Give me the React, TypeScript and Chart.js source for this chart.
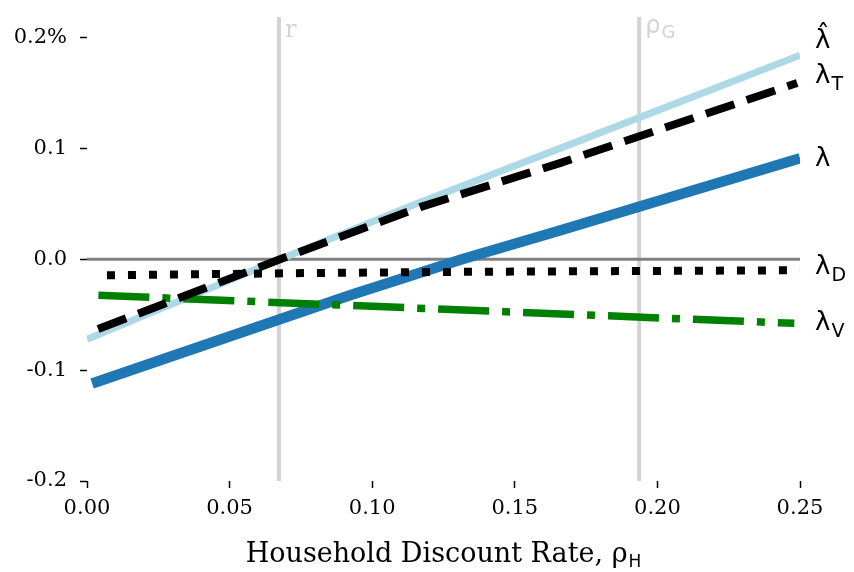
import React, { useEffect, useRef } from "react";
import { Chart, registerables } from "chart.js";

Chart.register(...registerables);

// Axis ticks
const xTicks = [0, 0.05, 0.1, 0.15, 0.2, 0.25];
const yTicks = [-0.2, -0.1, 0, 0.1, 0.2];
const yTickLabels = ["-0.2", "-0.1", "0.0", "0.1", "0.2%"];

// Reference lines
const rValue = 0.0673;
const rhoGValue = 0.1936;
const zeroLineX = [0, 0.25];

// Series (x = household discount rate, y = %)
const lamHatX = [0, 0.0677, 0.1168, 0.1658, 0.25];
const lamHatY = [-0.0722, 0, 0.0515, 0.1, 0.184];

const lamTX = [0.0039, 0.0677, 0.1168, 0.1658, 0.249];
const lamTY = [-0.063, 0, 0.047, 0.0867, 0.159];

const lamX = [0.0018, 0.0922, 0.1315, 0.1658, 0.25];
const lamY = [-0.112, -0.0325, 0, 0.026, 0.091];

const lamDX = [0.007, 0.08, 0.13, 0.25];
const lamDY = [-0.0144, -0.0124, -0.0114, -0.0099];

const lamVX = [0.004, 0.06, 0.248];
const lamVY = [-0.0325, -0.0383, -0.0578];

const Y_MIN = -0.2;
const Y_MAX = 0.2185;

const pts = (xs: number[], ys: number[]) => xs.map((x, i) => ({ x, y: ys[i] }));

const SERIF = "'DejaVu Serif', serif";
const SANS = "'DejaVu Sans', sans-serif";

const labelPlugin = {
  id: "labels",
  afterDraw(chart: any) {
    const { ctx, scales } = chart;
    const xs = scales.x;
    const ys = scales.y;
    ctx.save();

    // right-hand series labels
    const labels = [
      { main: "λ\u0302", sub: "", yv: lamHatY[lamHatY.length - 1], dy: -7 },
      { main: "λ", sub: "T", yv: lamTY[lamTY.length - 1], dy: 0 },
      { main: "λ", sub: "", yv: lamY[lamY.length - 1], dy: 8 },
      { main: "λ", sub: "D", yv: lamDY[lamDY.length - 1], dy: 4 },
      { main: "λ", sub: "V", yv: lamVY[lamVY.length - 1], dy: 7 },
    ];
    const lx = chart.chartArea.right + 15;
    ctx.fillStyle = "#000";
    ctx.textBaseline = "alphabetic";
    ctx.textAlign = "left";
    for (const l of labels) {
      const by = ys.getPixelForValue(l.yv) + l.dy;
      ctx.font = `26px ${SANS}`;
      ctx.fillText(l.main, lx, by);
      if (l.sub) {
        const w = ctx.measureText("λ").width;
        ctx.font = `19px ${SANS}`;
        ctx.fillText(l.sub, lx + w + 1, by + 7);
      }
    }

    // vertical line labels
    const top = chart.chartArea.top;
    ctx.fillStyle = "#d3d3d3";
    ctx.font = `24px ${SERIF}`;
    ctx.fillText("r", xs.getPixelForValue(rValue) + 6, top + 20);
    const gx = xs.getPixelForValue(rhoGValue) + 6;
    ctx.font = `24px ${SANS}`;
    ctx.fillText("ρ", gx, top + 16);
    const rw = ctx.measureText("ρ").width;
    ctx.font = `18px ${SANS}`;
    ctx.fillText("G", gx + rw + 1, top + 21);

    // x-axis title
    ctx.fillStyle = "#000";
    const t1 = "Household Discount Rate, ρ";
    ctx.font = `27px ${SERIF}`;
    const w1 = ctx.measureText(t1).width;
    ctx.font = `17px ${SANS}`;
    const w2 = ctx.measureText("H").width;
    const cx = (chart.chartArea.left + chart.chartArea.right) / 2;
    const startX = cx - (w1 + w2 + 1) / 2;
    ctx.font = `27px ${SERIF}`;
    ctx.fillText(t1, startX, 562);
    ctx.font = `17px ${SANS}`;
    ctx.fillText("H", startX + w1 + 1, 567);

    ctx.restore();
  },
};

export default function App() {
  const ref = useRef<HTMLCanvasElement>(null);

  useEffect(() => {
    if (!ref.current) return;
    const chart = new Chart(ref.current, {
      type: "line",
      data: {
        datasets: [
          {
            label: "lambda_D",
            data: pts(lamDX, lamDY),
            borderColor: "#000000",
            borderWidth: 8,
            borderDash: [8, 13],
            pointRadius: 0,
            order: 0,
          },
          {
            label: "lambda_T",
            data: pts(lamTX, lamTY),
            borderColor: "#000000",
            borderWidth: 8,
            borderDash: [30, 13],
            pointRadius: 0,
            order: 1,
          },
          {
            label: "lambda_V",
            data: pts(lamVX, lamVY),
            borderColor: "#008000",
            borderWidth: 7.5,
            borderDash: [51, 13, 8, 13],
            pointRadius: 0,
            order: 2,
          },
          {
            label: "lambda_hat",
            data: pts(lamHatX, lamHatY),
            borderColor: "#add8e6",
            borderWidth: 7,
            pointRadius: 0,
            order: 3,
          },
          {
            label: "lambda",
            data: pts(lamX, lamY),
            borderColor: "#1f77b4",
            borderWidth: 10.5,
            pointRadius: 0,
            order: 4,
          },
          {
            label: "zero",
            data: pts(zeroLineX, [0, 0]),
            borderColor: "#808080",
            borderWidth: 3,
            pointRadius: 0,
            order: 5,
          },
          {
            label: "r",
            data: pts([rValue, rValue], [Y_MIN, Y_MAX]),
            borderColor: "#d3d3d3",
            borderWidth: 4,
            pointRadius: 0,
            order: 6,
          },
          {
            label: "rhoG",
            data: pts([rhoGValue, rhoGValue], [Y_MIN, Y_MAX]),
            borderColor: "#d3d3d3",
            borderWidth: 4,
            pointRadius: 0,
            order: 7,
          },
        ],
      },
      options: {
        responsive: false,
        animation: false,
        devicePixelRatio: 1,
        layout: { padding: { top: 17, right: 54, left: 0, bottom: 0 } },
        plugins: {
          legend: { display: false },
          tooltip: { enabled: false },
        },
        scales: {
          x: {
            type: "linear",
            min: 0,
            max: 0.25,
            afterBuildTicks: (s: any) => {
              s.ticks = xTicks.map((v) => ({ value: v }));
            },
            afterFit: (s: any) => {
              s.height = 91;
              s.paddingLeft = 0;
              s.paddingRight = 0;
            },
            ticks: {
              callback: (v: any) => Number(v).toFixed(2),
              font: { family: SERIF, size: 21 },
              color: "#000",
              padding: 8,
              maxRotation: 0,
              autoSkip: false,
            },
            grid: {
              drawOnChartArea: false,
              drawTicks: true,
              tickLength: 7,
              tickColor: "#000",
              tickWidth: 1.5,
            },
            border: { display: false },
          },
          y: {
            type: "linear",
            min: Y_MIN,
            max: Y_MAX,
            afterBuildTicks: (s: any) => {
              s.ticks = yTicks.map((v) => ({ value: v }));
            },
            afterFit: (s: any) => {
              s.width = 87;
              s.paddingTop = 0;
              s.paddingBottom = 0;
            },
            ticks: {
              callback: (_v: any, i: number) => yTickLabels[i],
              font: { family: SERIF, size: 21 },
              color: "#000",
              padding: 13,
              autoSkip: false,
            },
            grid: {
              drawOnChartArea: false,
              drawTicks: true,
              tickLength: 7,
              tickColor: "#000",
              tickWidth: 1.5,
            },
            border: { display: false },
          },
        },
      },
      plugins: [labelPlugin],
    } as any);
    return () => chart.destroy();
  }, []);

  return (
    <div style={{ position: "absolute", left: 0, top: 0, width: 854, height: 572, background: "#fff" }}>
      <canvas ref={ref} width={854} height={572} style={{ display: "block" }} />
    </div>
  );
}
